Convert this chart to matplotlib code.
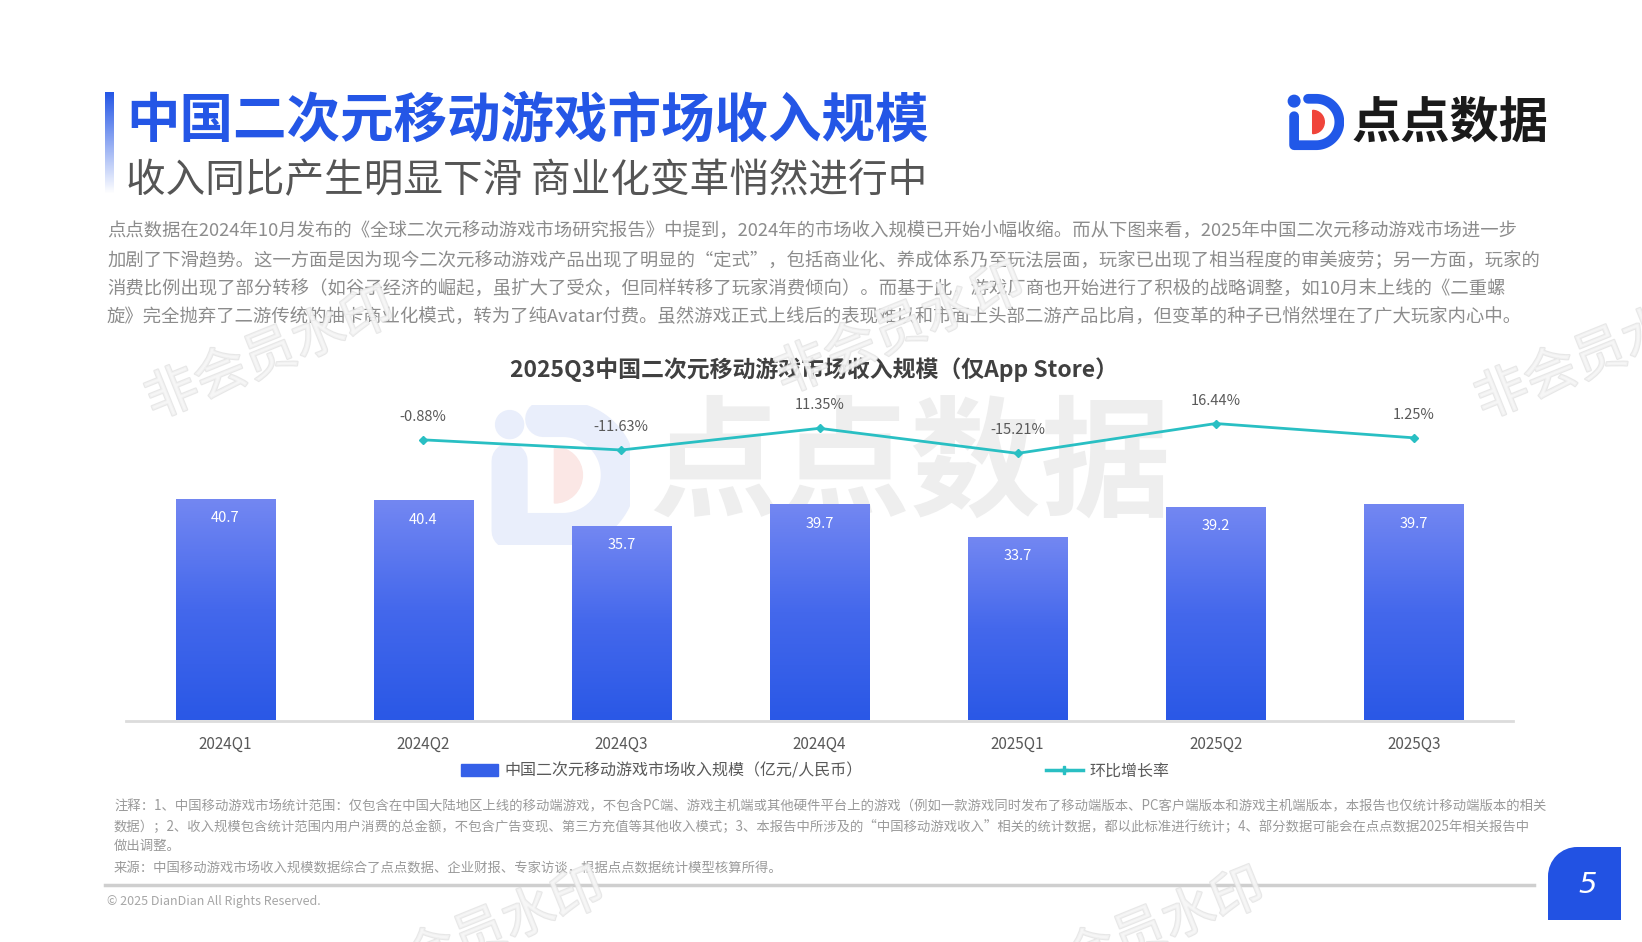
import numpy as np
import matplotlib.pyplot as plt
from matplotlib.patches import Rectangle, Wedge, Circle
from matplotlib.lines import Line2D
from matplotlib.colors import LinearSegmentedColormap
import matplotlib.patheffects as pe

plt.rcParams['font.family'] = ['Noto Sans CJK SC', 'DejaVu Sans']

# ---- data ----
quarters = ['2024Q1', '2024Q2', '2024Q3', '2024Q4', '2025Q1', '2025Q2', '2025Q3']
revenue = [40.7, 40.4, 35.7, 39.7, 33.7, 39.2, 39.7]      # 亿元
qoq = [-0.88, -11.63, 11.35, -15.21, 16.44, 1.25]          # %, from 2024Q2 on

title = '中国二次元移动游戏市场收入规模'
subtitle = '收入同比产生明显下滑 商业化变革悄然进行中'
chart_title = '2025Q3中国二次元移动游戏市场收入规模（仅App Store）'
bar_label = '中国二次元移动游戏市场收入规模（亿元/人民币）'
line_label = '环比增长率'
paragraph = [
    '点点数据在2024年10月发布的《全球二次元移动游戏市场研究报告》中提到，2024年的市场收入规模已开始小幅收缩。而从下图来看，2025年中国二次元移动游戏市场进一步',
    '加剧了下滑趋势。这一方面是因为现今二次元移动游戏产品出现了明显的“定式”，包括商业化、养成体系乃至玩法层面，玩家已出现了相当程度的审美疲劳；另一方面，玩家的',
    '消费比例出现了部分转移（如谷子经济的崛起，虽扩大了受众，但同样转移了玩家消费倾向）。而基于此，游戏厂商也开始进行了积极的战略调整，如10月末上线的《二重螺',
    '旋》完全抛弃了二游传统的抽卡商业化模式，转为了纯Avatar付费。虽然游戏正式上线后的表现难以和市面上头部二游产品比肩，但变革的种子已悄然埋在了广大玩家内心中。',
]
notes = [
    '注释：1、中国移动游戏市场统计范围：仅包含在中国大陆地区上线的移动端游戏，不包含PC端、游戏主机端或其他硬件平台上的游戏（例如一款游戏同时发布了移动端版本、PC客户端版本和游戏主机端版本，本报告也仅统计移动端版本的相关',
    '数据）；2、收入规模包含统计范围内用户消费的总金额，不包含广告变现、第三方充值等其他收入模式；3、本报告中所涉及的“中国移动游戏收入”相关的统计数据，都以此标准进行统计；4、部分数据可能会在点点数据2025年相关报告中',
    '做出调整。',
    '来源：中国移动游戏市场收入规模数据综合了点点数据、企业财报、专家访谈，根据点点数据统计模型核算所得。',
]

W, H = 1642, 942
BLUE = '#2456e6'
TEAL = '#29bfc3'


def fx(x):
    return x / W


def fy(y):
    return 1 - y / H


def draw_logo(a, blue, red, lw):
    a.set_xlim(0, 1)
    a.set_ylim(0, 1)
    a.set_aspect('equal')
    a.axis('off')
    a.add_patch(Circle((0.14, 0.86), 0.1, color=blue))
    t = np.linspace(-np.pi / 2, np.pi / 2, 60)
    xs = np.concatenate([[0.14, 0.14, 0.52], 0.52 + 0.4 * np.cos(t), [0.38]])
    ys = np.concatenate([[0.6, 0.1, 0.1], 0.5 + 0.4 * np.sin(t), [0.9]])
    a.plot(xs, ys, color=blue, lw=lw, solid_capstyle='round', solid_joinstyle='round')
    a.add_patch(Wedge((0.46, 0.5), 0.2, -90, 90, color=red))


fig = plt.figure(figsize=(16.42, 9.42), dpi=100)

# accent bar next to title
acc = fig.add_axes([fx(105), fy(194), 9 / W, 102 / H])
grad = np.linspace(0, 1, 100).reshape(-1, 1)
acc.imshow(grad, aspect='auto', cmap=LinearSegmentedColormap.from_list('acc', [BLUE, '#ffffff']))
acc.axis('off')

fig.text(fx(126), fy(121), title, fontsize=38.5, weight='bold', color=BLUE, va='center')
fig.text(fx(126), fy(181), subtitle, fontsize=28.5, color='#555555', va='center')

# logo top right
lg = fig.add_axes([fx(1286), fy(152), 58 / W, 60 / H])
draw_logo(lg, '#2158e8', '#f0443a', 7)
fig.text(fx(1352), fy(123), '点点数据', fontsize=35.5, weight='bold', color='#1a1a1a', va='center')

for i, line in enumerate(paragraph):
    fig.text(fx(107), fy(232 + i * 28.7), line, fontsize=13.2, color='#8c8c8c', va='center')

fig.text(fx(814), fy(369), chart_title, fontsize=16.5, weight='bold', color='#404040',
         ha='center', va='center')

# big faint watermark in the chart
fig.text(fx(910), fy(468), '点点数据', fontsize=94, weight='bold', color='#eeeeee',
         ha='center', va='center', zorder=-2)
wl = fig.add_axes([fx(490), fy(548), 140 / W, 146 / H], zorder=-2)
draw_logo(wl, '#e9eefb', '#fbe7e5', 26)

# ---- chart ----
ax = fig.add_axes([fx(126), fy(720.5), 1387 / W, 327 / H])
ax.patch.set_visible(False)
x = np.arange(len(quarters))
bars = ax.bar(x, revenue, width=0.5, color='none', zorder=2)
cmap = LinearSegmentedColormap.from_list('bar', ['#2a58e6', '#4468ec', '#7387f2'])
for b in bars:
    img = ax.imshow(grad, extent=[b.get_x(), b.get_x() + b.get_width(), 0, b.get_height()],
                    aspect='auto', cmap=cmap, origin='lower', zorder=2)
    img.set_clip_path(b)
for xi, v in zip(x, revenue):
    ax.annotate(f'{v}', (xi, v), xytext=(0, -14), textcoords='offset points',
                ha='center', va='center', color='white', fontsize=10.5, zorder=4)
ax.set_xlim(-0.5, 6.5)
ax.set_ylim(0, 60)
ax.set_xticks(x, quarters)
ax.tick_params(axis='x', length=0, pad=11, labelsize=11, labelcolor='#595959')
ax.set_yticks([])
for s in ['top', 'left', 'right']:
    ax.spines[s].set_visible(False)
ax.spines['bottom'].set_color('#dcdcdc')
ax.spines['bottom'].set_linewidth(2)

ax2 = ax.twinx()
ax2.patch.set_visible(False)
ax2.plot(x[1:], qoq, color=TEAL, lw=2, marker='D', ms=4.5, zorder=3)
for xi, v in zip(x[1:], qoq):
    ax2.annotate(f'{v:.2f}%', (xi, v), xytext=(0, 16.5), textcoords='offset points',
                 ha='center', va='center', color='#595959', fontsize=10.5)
ax2.set_ylim(-298.7, 48.3)
ax2.set_yticks([])
for s in ax2.spines.values():
    s.set_visible(False)

handles = [Rectangle((0, 0), 1, 1, color='#3560e8'),
           Line2D([], [], color=TEAL, lw=2.5, marker='P', ms=6)]
fig.legend(handles, [bar_label, line_label], loc='center', bbox_to_anchor=(fx(815), fy(771)),
           ncol=2, frameon=False, fontsize=11.5, labelcolor='#595959', handlelength=2.3,
           handleheight=0.7, columnspacing=11.5, handletextpad=0.4)

for yy, line in zip([806, 826, 846, 868], notes):
    fig.text(fx(114), fy(yy), line, fontsize=9.6, color='#9a9a9a', va='center')

fig.add_artist(Line2D([fx(105), fx(1534)], [fy(885), fy(885)], color='#cfcfcf', lw=2.5))
fig.text(fx(107), fy(901), '© 2025 DianDian All Rights Reserved.', fontsize=9,
         color='#a6a6a6', va='center')

# page badge
bd = fig.add_axes([fx(1548), fy(920), 73 / W, 73 / H])
bd.set_xlim(0, 1)
bd.set_ylim(0, 1)
bd.axis('off')
r = 0.4
bd.add_patch(Rectangle((0, 0), 1, 1 - r, color='#2252e3', lw=0))
bd.add_patch(Rectangle((r, 0), 1 - r, 1, color='#2252e3', lw=0))
bd.add_patch(Wedge((r, 1 - r), r, 90, 180, color='#2252e3', lw=0))
bd.text(0.55, 0.48, '5', fontsize=21, color='white', style='italic', family='DejaVu Sans',
        ha='center', va='center')

# "非会员" watermarks
for (wx, wy) in [(270, 355), (900, 330), (1600, 355), (480, 935), (1140, 935)]:
    fig.text(fx(wx), fy(wy), '非会员水印', fontsize=38, color='#f6f6f6', rotation=22,
             ha='center', va='center', alpha=0.7,
             path_effects=[pe.withStroke(linewidth=1.5, foreground='#dedede')])

fig.savefig('out.png', dpi=100)
